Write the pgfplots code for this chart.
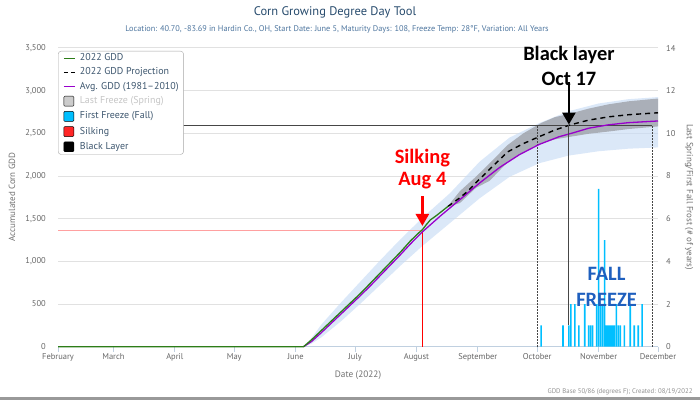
\documentclass[border=0pt]{standalone}
\usepackage{pgfplots}
\pgfplotsset{compat=1.18}
\usepackage{fontspec}
\setmainfont{PT Sans}
\newfontfamily\annot{Carlito}
\usetikzlibrary{arrows.meta}

\definecolor{gddgreen}{RGB}{45,125,25}
\definecolor{avgpurple}{RGB}{153,0,204}
\definecolor{bandblue}{RGB}{200,220,245}
\definecolor{bandgray}{RGB}{150,152,158}
\definecolor{freezecyan}{RGB}{0,191,255}
\definecolor{gridgray}{RGB}{225,225,225}
\definecolor{axisline}{RGB}{192,208,224}
\definecolor{ticklab}{RGB}{102,102,102}
\definecolor{axtitle}{RGB}{112,112,112}
\definecolor{titleblue}{RGB}{39,75,109}
\definecolor{subblue}{RGB}{77,117,158}
\definecolor{legtext}{RGB}{62,87,111}
\definecolor{fallblue}{RGB}{30,95,190}
\definecolor{silkred}{RGB}{255,0,0}
\definecolor{silklight}{RGB}{255,160,160}
\definecolor{blgray}{RGB}{70,70,70}
\definecolor{credit}{RGB}{144,144,144}

\pgfplotsset{
  mylineleg/.style={legend image code/.code={\draw[##1] (0bp,0bp) -- (11bp,0bp);}},
  mysqleg/.style={legend image code/.code={\fill[##1,rounded corners=1bp] (0bp,-5bp) rectangle (10bp,5bp);}},
}

\begin{document}
\begin{tikzpicture}
\path[use as bounding box] (0bp,0bp) rectangle (700bp,400bp);

% ---------------- main axis (GDD) ----------------
\begin{axis}[
  scale only axis, width=600bp, height=298.7bp,
  at={(58bp,53.3bp)}, anchor=south west,
  xmin=32, xmax=335, ymin=0, ymax=3500,
  axis x line*=bottom, axis y line*=left,
  x axis line style={draw=axisline, line width=1bp, -},
  y axis line style={draw=none},
  xtick={32,60,91,121,152,182,213,244,274,305,335},
  xticklabels={February,March,April,May,June,July,August,September,October,November,December},
  ytick={0,500,...,3500},
  tick align=outside,
  major tick length=5bp,
  xtick style={draw=axisline, line width=1bp},
  ytick style={draw=none},
  ymajorgrids, grid style={draw=gridgray, line width=1bp},
  tick label style={font=\fontsize{8.5}{10}\selectfont, text=ticklab},
  /pgf/number format/assume math mode=true,
  /pgf/number format/1000 sep={,},
  yticklabel style={anchor=east, inner sep=0pt, xshift=-7bp},
  xticklabel style={anchor=north, inner sep=0pt, yshift=-2bp},
  clip=false,
  legend cell align=left,
  legend style={at={(0,1)}, anchor=north west, yshift=-3bp,
    draw=gray!70, rounded corners=3bp, fill=white,
    font=\fontsize{10}{11}\selectfont, text=legtext,
    inner xsep=5bp, inner ysep=2.5bp, row sep=4.8bp,
    nodes={inner sep=0pt, text height=7.2bp, text depth=2.1bp},
    /tikz/every odd column/.append style={column sep=4.5bp}},
]
\addlegendimage{mylineleg, draw=gddgreen, line width=1.3bp}
\addlegendentry{2022 GDD}
\addlegendimage{mylineleg, draw=black, line width=1.3bp, dash pattern=on 4bp off 3bp}
\addlegendentry{2022 GDD Projection}
\addlegendimage{mylineleg, draw=avgpurple, line width=1.3bp}
\addlegendentry{Avg. GDD (1981--2010)}
\addlegendimage{mysqleg, fill=gray!40}
\addlegendentry{\textcolor{gray!45}{Last Freeze (Spring)}}
\addlegendimage{mysqleg, fill=freezecyan}
\addlegendentry{First Freeze (Fall)}
\addlegendimage{mysqleg, fill=red!85}
\addlegendentry{Silking}
\addlegendimage{mysqleg, fill=black}
\addlegendentry{Black Layer}

% light blue variation band (avg, all years)
\addplot[forget plot, fill=bandblue, fill opacity=0.65, draw=none] coordinates {
 (156,0) (160,100) (165,260) (175,520) (185,770) (195,1020) (205,1260) (216,1510)
 (230,1800) (245,2170) (260,2450) (275,2620) (290,2760) (305,2850) (320,2900) (335,2925)
 (335,2335) (320,2320) (305,2290) (290,2240) (275,2150) (260,1990) (245,1740) (230,1450)
 (216,1180) (205,950) (195,730) (185,510) (175,300) (165,110) (160,35) (156,0)};

% gray projection band
\addplot[forget plot, fill=bandgray, fill opacity=0.7, draw=none] coordinates {
 (229,1650) (235,1824) (243,1990) (250,2150) (259,2362) (267,2500) (276,2621) (283,2690)
 (291,2733) (300,2790) (310,2840) (320,2875) (335,2908)
 (335,2581) (320,2550) (310,2521) (300,2495) (291,2461) (283,2430) (276,2382) (267,2280)
 (259,2162) (250,1944) (243,1860) (235,1684) (229,1640)};

% reference lines
\addplot[forget plot, draw=silklight, line width=1.2bp] coordinates {(32,1360) (216,1360)};
\addplot[forget plot, draw=blgray, line width=1bp] coordinates {(32,2597) (332,2597)};
\addplot[forget plot, draw=blgray, line width=0.8bp, dash pattern=on 1.5bp off 1.5bp] coordinates {(274,0) (274,2597)};
\addplot[forget plot, draw=blgray, line width=0.8bp, dash pattern=on 1.5bp off 1.5bp] coordinates {(332,0) (332,2597)};
\addplot[forget plot, draw=silkred, line width=1.2bp] coordinates {(216,0) (216,1360)};

% average
\addplot[forget plot, draw=avgpurple, line width=1.3bp] coordinates {
 (156,0) (160,60) (165,165) (170,275) (175,385) (180,495) (185,605) (190,720)
 (195,840) (200,960) (205,1080) (210,1205) (216,1345) (225,1530) (235,1724)
 (245,1920) (255,2100) (265,2250) (275,2370) (285,2460)
 (292,2505) (300,2560) (310,2600) (320,2625) (335,2645)};

% projection
\addplot[forget plot, draw=black, line width=1.4bp, dash pattern=on 5bp off 4bp] coordinates {
 (229,1645) (235,1746) (239,1824) (243,1920) (250,2080) (259,2282) (267,2380)
 (275,2461) (283,2540) (291,2601) (300,2655) (310,2693) (320,2718) (335,2741)};

% 2022 GDD
\addplot[forget plot, draw=gddgreen, line width=1.3bp] coordinates {
 (32,0) (156,0) (160,80) (165,190) (170,300) (175,410) (180,520) (185,630) (190,750)
 (195,870) (200,990) (205,1110) (210,1240) (214,1330) (216,1370) (218,1430)
 (220,1485) (223,1535) (226,1590) (229,1645)};

% black layer vertical
\addplot[forget plot, draw=blgray, line width=1.2bp] coordinates {(290,255) (290,2597)};

% annotations
\draw[silkred, line width=2.6bp, -{Triangle[width=13bp,length=12bp]}] (axis cs:216,1765) -- (axis cs:216,1415);
\draw[black, line width=2.6bp, -{Triangle[width=13bp,length=12bp]}] (axis cs:290,3098) -- (axis cs:290,2603);
\node[anchor=base, font=\annot\bfseries\fontsize{20.5}{24}\selectfont, text=silkred, inner sep=0pt] at (axis cs:216,2147) {Silking};
\node[anchor=base, font=\annot\bfseries\fontsize{20.5}{24}\selectfont, text=silkred, inner sep=0pt] at (axis cs:216,1885) {Aug 4};
\node[anchor=base, font=\annot\bfseries\fontsize{20.5}{24}\selectfont, text=black, inner sep=0pt] at (axis cs:290,3355) {Black layer};
\node[anchor=base, font=\annot\bfseries\fontsize{20.5}{24}\selectfont, text=black, inner sep=0pt] at (axis cs:290,3061) {Oct 17};
\end{axis}

% ---------------- right axis (years) ----------------
\begin{axis}[
  scale only axis, width=600bp, height=298.7bp,
  at={(58bp,53.3bp)}, anchor=south west,
  xmin=32, xmax=335, ymin=0, ymax=14,
  axis y line*=right, hide x axis,
  y axis line style={draw=none},
  ytick={0,2,...,14}, major tick length=0pt, ytick style={draw=none},
  tick label style={font=\fontsize{8.5}{10}\selectfont, text=ticklab},
  /pgf/number format/assume math mode=true,
  yticklabel style={anchor=west, inner sep=0pt, xshift=8bp},
  clip=false,
]
\addplot[ybar, bar width=0.8, bar shift=0pt, fill=freezecyan, draw=none] coordinates {
 (276,1) (287,1) (290,1) (291,2) (293,2) (295,1) (298,2) (300,1) (301,1) (302,1)
 (304,2) (305,7.4) (306,2) (307,2) (308,5) (309,1) (310,1) (311,1) (312,1) (313,1)
 (314,2) (315,1) (316,1) (318,1) (321,2) (323,1) (325,1) (327,2)};
\node[anchor=base, font=\annot\bfseries\fontsize{20.5}{24}\selectfont, text=fallblue, inner sep=0pt] at (axis cs:309,3.12) {FALL};
\node[anchor=base, font=\annot\bfseries\fontsize{20.5}{24}\selectfont, text=fallblue, inner sep=0pt] at (axis cs:309,1.89) {FREEZE};
\end{axis}

% ---------------- titles ----------------
\node[font=\fontsize{12.5}{14}\selectfont, text=titleblue] at (335bp,388bp) {Corn Growing Degree Day Tool};
\node[font=\fontsize{8.3}{10}\selectfont, text=subblue] at (337bp,371bp) {Location: 40.70, -83.69 in Hardin Co., OH, Start Date: June 5, Maturity Days: 108, Freeze Temp: 28°F, Variation: All Years};
\node[rotate=90, font=\fontsize{9}{11}\selectfont, text=axtitle] at (12bp,203bp) {Accumulated Corn GDD};
\node[rotate=-90, font=\fontsize{9}{11}\selectfont, text=axtitle] at (689bp,203bp) {Last Spring/First Fall Frost (\# of years)};
\node[font=\fontsize{9.3}{11}\selectfont, text=axtitle] at (358bp,25bp) {Date (2022)};
\node[anchor=east, font=\fontsize{6.8}{8}\selectfont, text=credit] at (696bp,8.5bp) {GDD Base 50/86 (degrees F); Created: 08/19/2022};
\draw[draw=gray!80, line width=2bp] (0bp,1.5bp) -- (700bp,1.5bp);
\end{tikzpicture}
\end{document}
